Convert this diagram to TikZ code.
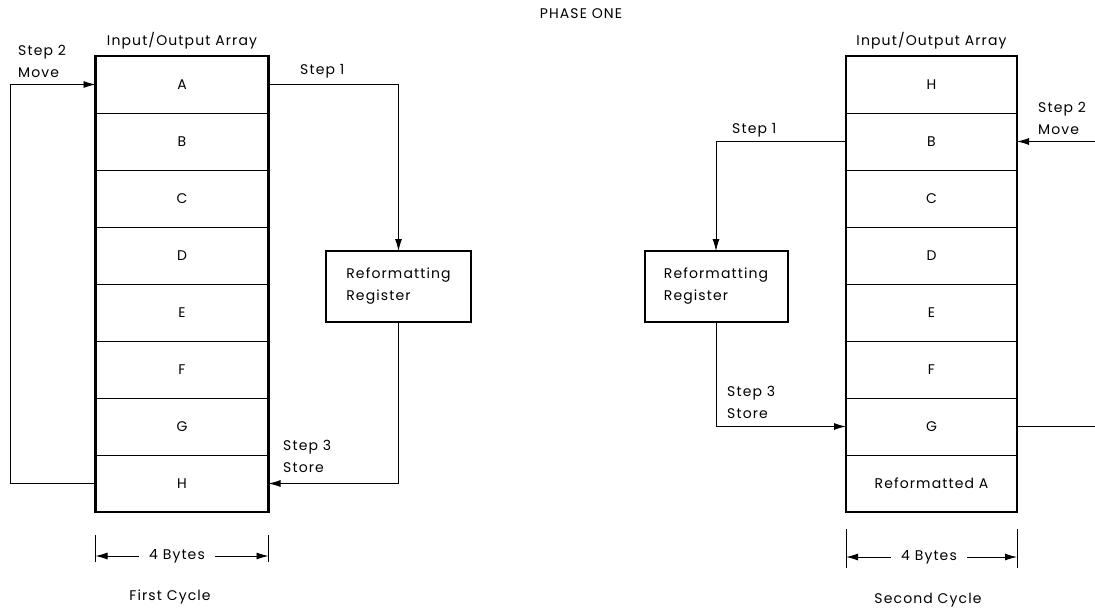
\documentclass[tikz,border=0pt]{standalone}
\usepackage{fontspec}
\setmainfont{Poppins}[LetterSpace=8]
\usetikzlibrary{arrows.meta,positioning,calc}
\tikzset{
  cell/.style={rectangle,draw=black,line width=0.9pt,minimum width=173pt,minimum height=57pt,inner sep=0pt,outer sep=0pt},
  frame/.style={draw=black,line width=2.2pt},
  regbox/.style={rectangle,draw=black,line width=2pt,minimum width=145pt,minimum height=71pt,align=left,inner sep=0pt,outer sep=0pt},
  flow/.style={-{Latex[length=12pt,width=7pt]},line width=0.9pt},
  plain/.style={line width=0.9pt},
  lbl/.style={align=left,anchor=west,inner sep=0pt},
  widthlbl/.style={inner xsep=10pt},
}

\begin{document}
\begin{tikzpicture}[x=1pt,y=-1pt,font=\fontsize{14}{22}\selectfont]
\useasboundingbox (0,0) rectangle (1095,613);

\node at (581,14) {PHASE ONE};

% first cycle: array
\node[cell] (a1) at (182,84.5) {A};
\node[cell,below=0pt of a1] (a2) {B};
\node[cell,below=0pt of a2] (a3) {C};
\node[cell,below=0pt of a3] (a4) {D};
\node[cell,below=0pt of a4] (a5) {E};
\node[cell,below=0pt of a5] (a6) {F};
\node[cell,below=0pt of a6] (a7) {G};
\node[cell,below=0pt of a7] (a8) {H};
\draw[frame] (a1.north west) rectangle (a8.south east);
\node[above=3pt of a1] (io1) {Input/Output Array};

\node[regbox] (r1) at (398.5,286.5) {Reformatting\\Register};

% first cycle: steps
\draw[flow] (a1.east) -| (r1.north);
\draw[flow] (r1.south) |- (a8.east);
\draw[flow] (a8.west) -- ++(-85,0) |- (a1.west);
\node[lbl] (s1a) at (300,71) {Step 1};
\node[lbl] (s2a) at (18,61) {Step 2\\Move};
\node[lbl] (s3a) at (283,456) {Step 3\\Store};

% first cycle: width
\draw[plain] (a8.south west) ++(0,23) coordinate (ta) -- ++(0,27);
\draw[plain] (a8.south east) ++(0,23) coordinate (tb) -- ++(0,27);
\node[widthlbl] (w1) at (177,556) {4 Bytes};
\draw[flow] (w1.west) -- (w1.west -| ta);
\draw[flow] (w1.east) -- (w1.east -| tb);
\node (c1) at (170,597) {First Cycle};

% second cycle: array
\node[cell,minimum width=171pt] (b1) at (931.5,84.5) {H};
\node[cell,minimum width=171pt,below=0pt of b1] (b2) {B};
\node[cell,minimum width=171pt,below=0pt of b2] (b3) {C};
\node[cell,minimum width=171pt,below=0pt of b3] (b4) {D};
\node[cell,minimum width=171pt,below=0pt of b4] (b5) {E};
\node[cell,minimum width=171pt,below=0pt of b5] (b6) {F};
\node[cell,minimum width=171pt,below=0pt of b6] (b7) {G};
\node[cell,minimum width=171pt,below=0pt of b7] (b8) {Reformatted A};
\draw[frame] (b1.north west) rectangle (b8.south east);
\node[above=3pt of b1] (io2) {Input/Output Array};

\node[regbox,minimum width=143pt] (r2) at (716,286.5) {Reformatting\\Register};

% second cycle: steps
\coordinate[right=78pt of b2.east] (in2);
\coordinate[right=78pt of b7.east] (out2);
\draw[flow] (b2.west) -| (r2.north);
\draw[flow] (r2.south) |- (b7.west);
\draw[flow] (in2) -- (b2.east);
\draw[plain] (b7.east) -- (out2);
\node[lbl] (s1b) at (732,130) {Step 1};
\node[lbl] (s2b) at (1038,118.5) {Step 2\\Move};
\node[lbl] (s3b) at (727,402.5) {Step 3\\Store};

% second cycle: width
\draw[plain] (b8.south west) ++(0,17) coordinate (tc) -- ++(0,39);
\draw[plain] (b8.south east) ++(0,17) coordinate (td) -- ++(0,39);
\node[widthlbl] (w2) at (929,557) {4 Bytes};
\draw[flow] (w2.west) -- (w2.west -| tc);
\draw[flow] (w2.east) -- (w2.east -| td);
\node (c2) at (928,600) {Second Cycle};
\end{tikzpicture}
\end{document}
